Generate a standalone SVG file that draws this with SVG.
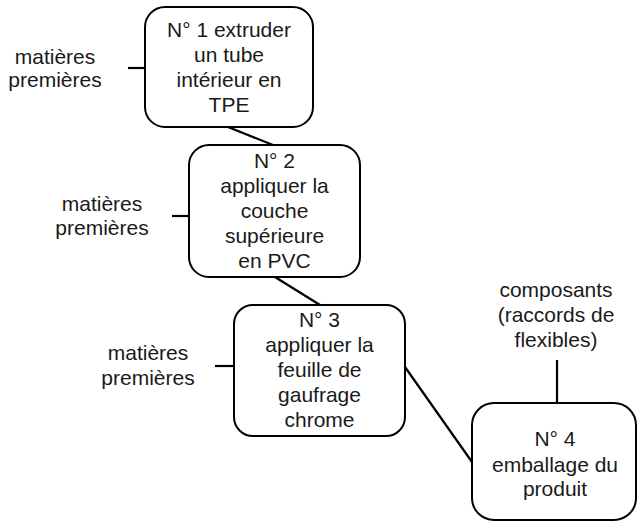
<svg xmlns="http://www.w3.org/2000/svg" width="637" height="522" viewBox="0 0 637 522">
<style>
.box{fill:#fff;stroke:#000;stroke-width:2}
.ln{stroke:#000;stroke-width:2.2;fill:none}
text{font-family:"Liberation Sans",Arial,sans-serif;font-size:21px;fill:#1a1a1a;text-anchor:middle}
</style>
<rect width="637" height="522" fill="#fff"/>
<g id="connectors">
<line class="ln" x1="228" y1="127" x2="273" y2="145"/>
<line class="ln" x1="275" y1="277" x2="320" y2="305"/>
<line class="ln" x1="405" y1="367" x2="472" y2="462"/>
<line class="ln" x1="128" y1="68" x2="145" y2="68"/>
<line class="ln" x1="172" y1="216" x2="189" y2="216"/>
<line class="ln" x1="215" y1="366" x2="234" y2="366"/>
<line class="ln" x1="557" y1="360" x2="557" y2="403"/>
</g>
<g id="node1">
<rect class="box" x="145" y="7" width="168" height="120" rx="20"/>
<text x="229" y="37">N° 1 extruder</text>
<text x="229" y="62">un tube</text>
<text x="229" y="87">intérieur en</text>
<text x="229" y="112">TPE</text>
</g>
<g id="node2">
<rect class="box" x="189" y="145" width="171" height="132" rx="20"/>
<text x="274.5" y="168">N° 2</text>
<text x="274.5" y="193">appliquer la</text>
<text x="274.5" y="218">couche</text>
<text x="274.5" y="243">supérieure</text>
<text x="274.5" y="268">en PVC</text>
</g>
<g id="node3">
<rect class="box" x="234" y="305" width="171" height="131" rx="19"/>
<text x="319.5" y="327">N° 3</text>
<text x="319.5" y="352">appliquer la</text>
<text x="319.5" y="377">feuille de</text>
<text x="319.5" y="402">gaufrage</text>
<text x="319.5" y="427">chrome</text>
</g>
<g id="node4">
<rect class="box" x="472" y="403" width="164" height="117" rx="22"/>
<text x="555" y="446">N° 4</text>
<text x="555" y="472">emballage du</text>
<text x="555" y="496">produit</text>
</g>
<g id="input1">
<text x="55" y="64">matières</text>
<text x="55" y="87">premières</text>
</g>
<g id="input2">
<text x="102" y="211">matières</text>
<text x="102" y="235">premières</text>
</g>
<g id="input3">
<text x="148" y="360">matières</text>
<text x="148" y="385">premières</text>
</g>
<g id="input4">
<text x="556" y="297">composants</text>
<text x="556" y="322">(raccords de</text>
<text x="556" y="347">flexibles)</text>
</g>
</svg>
